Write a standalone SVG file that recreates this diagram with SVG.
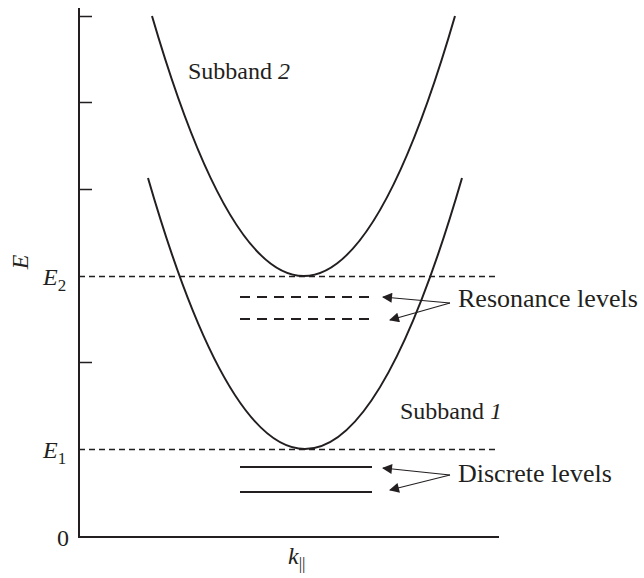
<svg xmlns="http://www.w3.org/2000/svg" width="644" height="578" viewBox="0 0 644 578">
<defs>
<marker id="ah" viewBox="0 0 10 10" refX="9" refY="5" markerWidth="14" markerHeight="10" markerUnits="userSpaceOnUse" orient="auto"><path d="M0,0 L10,5 L0,10 z" fill="#231f20"/></marker>
<style>
.ax{stroke:#231f20;stroke-width:2;fill:none}
.tk{stroke:#231f20;stroke-width:1.3;fill:none}
.dl{stroke:#231f20;stroke-width:1.3;stroke-dasharray:6,4;fill:none}
.rl{stroke:#231f20;stroke-width:2;stroke-dasharray:10,7;fill:none}
.sl{stroke:#231f20;stroke-width:2;fill:none}
.cv{stroke:#231f20;stroke-width:2;fill:none}
.ar{stroke:#231f20;stroke-width:1.2;fill:none;marker-end:url(#ah)}
text{font-family:"Liberation Serif","Times New Roman",serif;fill:#231f20;font-size:24px}
.lb{font-size:26px}
.it{font-style:italic}
.sub{font-style:normal;font-size:17px}
</style>
</defs>
<g id="axes">
<path class="ax" d="M79,8 V537 H499"/>
<path class="tk" d="M79,16.5 H92 M79,102.5 H92 M79,189.5 H92 M79,362.5 H92"/>
<text class="it" transform="translate(28,262) rotate(-90)" text-anchor="middle">E</text>
<text class="it" x="43" y="285">E<tspan class="sub" dy="6">2</tspan></text>
<text class="it" x="43" y="458">E<tspan class="sub" dy="6">1</tspan></text>
<text x="57" y="546">0</text>
<text class="it" x="288" y="564">k<tspan class="sub" dy="5">||</tspan></text>
</g>
<g id="E2line"><path class="dl" d="M79,276.5 H499"/></g>
<g id="E1line"><path class="dl" d="M79,449.5 H499"/></g>
<g id="subband2">
<path class="cv" d="M152,16 Q304,536 455,16"/>
<text x="188" y="79">Subband <tspan class="it">2</tspan></text>
</g>
<g id="subband1">
<path class="cv" d="M148,178 Q305,720 462,178"/>
<text x="400" y="419">Subband <tspan class="it">1</tspan></text>
</g>
<g id="resonance">
<path class="rl" d="M240,297 H372 M240,319 H372"/>
<text class="lb" x="458" y="307">Resonance levels</text>
</g>
<g id="discrete">
<path class="sl" d="M240,467 H372 M240,492 H372"/>
<text class="lb" x="458" y="482">Discrete levels</text>
</g>
<g id="connectors">
<path class="ar" d="M450,303 L383,297"/>
<path class="ar" d="M450,303 L390,320"/>
<path class="ar" d="M450,475 L383,468"/>
<path class="ar" d="M450,475 L390,490"/>
</g>
</svg>
